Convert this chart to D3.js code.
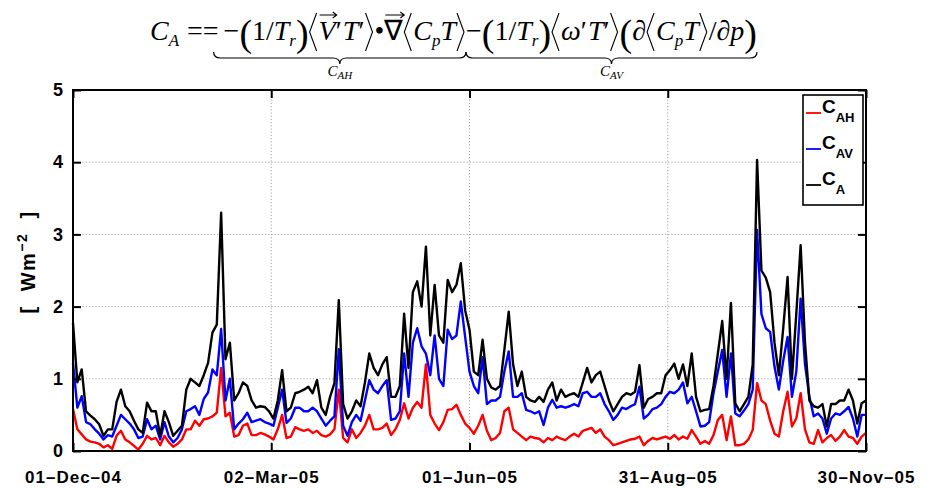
<!DOCTYPE html>
<html>
<head>
<meta charset="utf-8">
<script src="https://cdn.jsdelivr.net/npm/d3@7"></script>
<style>
  body { margin: 0; background: #fff; }
  svg { display: block; }
</style>
</head>
<body>
<div id="viz"></div>
<script>
// daily values, one every 2 days from 01-Dec-04 to 30-Nov-05
const cAH = [
  0.58,0.3,0.23,0.16,0.13,0.12,0.1,0.05,0.08,0.03,
  0.21,0.28,0.16,0.12,0.07,0.02,0.1,0.21,0.16,0.18,
  0.08,0.21,0.12,0.06,0.1,0.16,0.3,0.3,0.42,0.35,
  0.44,0.45,0.48,0.53,1.15,0.48,0.53,0.2,0.22,0.35,
  0.38,0.22,0.22,0.25,0.23,0.2,0.16,0.3,0.5,0.18,
  0.2,0.33,0.3,0.28,0.3,0.25,0.28,0.22,0.2,0.23,
  0.3,0.85,0.18,0.12,0.3,0.18,0.25,0.35,0.5,0.3,
  0.3,0.32,0.38,0.22,0.3,0.43,0.66,0.45,0.6,0.68,
  0.6,1.2,0.5,0.38,0.29,0.4,0.57,0.58,0.64,0.5,
  0.38,0.32,0.24,0.35,0.5,0.28,0.15,0.18,0.25,0.55,
  0.6,0.3,0.25,0.2,0.15,0.2,0.18,0.17,0.12,0.18,
  0.15,0.2,0.17,0.15,0.2,0.24,0.2,0.28,0.3,0.32,
  0.25,0.3,0.2,0.15,0.08,0.1,0.12,0.14,0.16,0.17,
  0.2,0.08,0.14,0.18,0.16,0.18,0.2,0.17,0.22,0.16,
  0.2,0.17,0.29,0.2,0.1,0.14,0.1,0.22,0.43,0.5,
  0.15,0.48,0.08,0.08,0.1,0.16,0.29,0.94,0.7,0.65,
  0.42,0.24,0.2,0.55,0.82,0.34,0.45,0.8,0.3,0.12,
  0.1,0.29,0.12,0.18,0.22,0.14,0.2,0.29,0.2,0.18,
  0.1,0.2,0.25
]
const cAV = [
  1.22,0.6,0.76,0.4,0.37,0.3,0.24,0.16,0.22,0.2,
  0.35,0.5,0.44,0.38,0.3,0.18,0.2,0.44,0.3,0.35,
  0.16,0.4,0.2,0.12,0.18,0.3,0.55,0.58,0.62,0.5,
  0.72,0.81,1.13,1.05,1.69,0.7,1.0,0.3,0.38,0.44,
  0.53,0.4,0.42,0.44,0.4,0.38,0.35,0.6,0.85,0.39,
  0.45,0.6,0.6,0.55,0.55,0.6,0.55,0.45,0.35,0.42,
  0.48,1.41,0.35,0.21,0.4,0.5,0.42,0.7,0.98,0.85,
  0.8,0.9,0.98,0.43,0.45,0.55,1.35,0.75,1.5,1.7,
  1.45,1.35,1.05,1.6,1.0,0.9,1.68,1.55,1.6,2.07,
  1.58,1.1,0.9,0.8,1.3,0.65,0.7,0.7,0.75,1.1,
  1.38,0.75,0.75,0.8,0.57,0.55,0.52,0.55,0.36,0.6,
  0.71,0.6,0.62,0.6,0.62,0.65,0.62,0.8,0.82,0.75,
  0.75,0.8,0.65,0.55,0.43,0.5,0.6,0.58,0.62,0.65,
  0.89,0.45,0.5,0.58,0.6,0.65,0.75,0.82,0.8,0.85,
  0.95,0.66,0.75,0.55,0.34,0.35,0.4,0.8,1.1,1.4,
  0.75,1.35,0.52,0.48,0.56,0.65,0.85,3.06,1.9,1.7,
  1.65,1.17,0.85,1.25,1.58,0.75,1.1,2.11,1.2,0.75,
  0.48,0.52,0.45,0.24,0.45,0.52,0.5,0.55,0.61,0.45,
  0.2,0.5,0.5
]
const cA = [
  1.77,0.95,1.13,0.55,0.49,0.44,0.37,0.21,0.3,0.3,
  0.68,0.85,0.62,0.55,0.42,0.3,0.25,0.67,0.55,0.55,
  0.21,0.55,0.4,0.21,0.28,0.35,0.85,1.0,0.95,0.9,
  1.05,1.22,1.64,1.75,3.3,1.27,1.5,0.7,0.8,0.95,
  0.9,0.7,0.6,0.62,0.61,0.55,0.45,0.7,1.12,0.55,
  0.6,0.8,0.82,0.85,0.89,0.8,0.98,0.6,0.5,0.75,
  0.94,2.09,0.65,0.45,0.55,0.7,0.62,0.95,1.35,1.15,
  1.05,1.2,1.3,0.75,0.75,0.9,1.9,1.15,2.2,2.35,
  2.0,2.83,1.6,2.3,1.6,1.5,2.37,2.2,2.3,2.6,
  1.95,1.68,1.1,1.05,1.54,1.0,0.88,0.85,0.9,1.4,
  1.93,1.2,0.9,1.1,0.75,0.7,0.68,0.75,0.68,0.85,
  0.95,0.7,0.85,0.75,0.78,0.8,0.75,0.95,1.15,0.95,
  1.05,1.1,0.9,0.7,0.55,0.65,0.75,0.8,0.78,0.82,
  1.19,0.6,0.72,0.75,0.8,0.8,1.05,1.12,1.21,1.0,
  1.2,0.9,1.35,0.75,0.55,0.57,0.58,0.9,1.35,1.8,
  1.0,2.05,0.66,0.55,0.65,0.75,1.2,4.03,2.5,2.4,
  2.2,1.5,1.05,1.7,2.41,1.0,1.9,2.85,1.5,0.7,
  0.62,0.6,0.65,0.34,0.65,0.65,0.7,0.7,0.85,0.7,
  0.38,0.66,0.7
]

const seriesSub = ["AH", "AV", "A"]
const seriesColors = ["#ff0000", "#0000ff", "#000000"]
const tickDates = ["2004-12-01", "2005-03-02", "2005-06-01", "2005-08-31", "2005-11-30"]
const tickLabels = ["01–Dec–04", "02–Mar–05", "01–Jun–05", "31–Aug–05", "30–Nov–05"]
const yTicks = [0, 1, 2, 3, 4, 5]

const width = 933
const height = 488
const plot = { left: 73, right: 866, top: 90, bottom: 451 }

const parse = d3.utcParse("%Y-%m-%d")
const start = parse("2004-12-01")
const dates = d3.utcDay.range(start, parse("2005-12-01"), 2)
const ticks = tickDates.map(parse)

const svg = d3.select("#viz").append("svg")
  .attr("width", width)
  .attr("height", height)
  .style("font-family", "'Liberation Sans', Arial, sans-serif")

const x = d3.scaleUtc()
  .domain([start, parse("2005-11-30")])
  .range([plot.left, plot.right])
const y = d3.scaleLinear()
  .domain([0, 5])
  .range([plot.bottom, plot.top])

// dotted grid
const grid = svg.append("g")
  .attr("stroke", "#9a9a9a")
  .attr("stroke-width", 0.9)
  .attr("stroke-dasharray", "1.2,2")
grid.selectAll("line.h")
  .data(yTicks.slice(1, -1))
  .enter().append("line")
  .attr("x1", plot.left).attr("x2", plot.right)
  .attr("y1", d => y(d)).attr("y2", d => y(d))
grid.selectAll("line.v")
  .data(ticks.slice(1, -1))
  .enter().append("line")
  .attr("y1", plot.top).attr("y2", plot.bottom)
  .attr("x1", d => x(d)).attr("x2", d => x(d))

// series
const line = d3.line()
  .x((d, i) => x(dates[i]))
  .y(d => y(d))
const allSeries = [cAH, cAV, cA]
svg.append("g").selectAll("path")
  .data(allSeries)
  .enter().append("path")
  .attr("d", d => line(d))
  .attr("fill", "none")
  .attr("stroke", (d, i) => seriesColors[i])
  .attr("stroke-width", 2.4)
  .attr("stroke-linejoin", "round")

// axes with inward ticks
const tickFont = g => g.selectAll("text")
  .attr("font-size", 17)
  .attr("font-weight", "bold")
  .attr("fill", "#000")
  .attr("font-family", "'Liberation Sans', Arial, sans-serif")

const xAxis = svg.append("g")
  .attr("transform", `translate(0,${plot.bottom})`)
  .call(d3.axisBottom(x).tickValues(ticks).tickFormat((d, i) => tickLabels[i])
    .tickSizeInner(-8).tickSizeOuter(0).tickPadding(20))
xAxis.call(tickFont)
xAxis.selectAll("text").attr("letter-spacing", "1px")

const yAxis = svg.append("g")
  .attr("transform", `translate(${plot.left},0)`)
  .call(d3.axisLeft(y).tickValues(yTicks).tickFormat(d3.format("d"))
    .tickSizeInner(-8).tickSizeOuter(0).tickPadding(10))
yAxis.call(tickFont)
yAxis.selectAll("text").attr("font-size", 18)

svg.append("g")
  .attr("transform", `translate(0,${plot.top})`)
  .call(d3.axisTop(x).tickValues(ticks).tickFormat("").tickSizeInner(-8).tickSizeOuter(0))
svg.append("g")
  .attr("transform", `translate(${plot.right},0)`)
  .call(d3.axisRight(y).tickValues(yTicks).tickFormat("").tickSizeInner(-8).tickSizeOuter(0))

svg.selectAll(".domain").remove()
svg.selectAll(".tick line").attr("stroke", "#000").attr("stroke-width", 2)

svg.append("rect")
  .attr("x", plot.left).attr("y", plot.top)
  .attr("width", plot.right - plot.left)
  .attr("height", plot.bottom - plot.top)
  .attr("fill", "none")
  .attr("stroke", "#000")
  .attr("stroke-width", 2)

// y label
const yl = svg.append("text")
  .attr("transform", "translate(35,262) rotate(-90)")
  .attr("text-anchor", "middle")
  .attr("font-size", 20)
  .attr("font-weight", "bold")
  .attr("letter-spacing", "1.5px")
  .attr("xml:space", "preserve")
yl.append("tspan").text("[  Wm")
yl.append("tspan").attr("dy", -8).attr("font-size", 14).text("−2")
yl.append("tspan").attr("dy", 8).text("  ]")

// legend
const legend = svg.append("g")
legend.append("rect")
  .attr("x", 803).attr("y", 95)
  .attr("width", 60).attr("height", 110)
  .attr("fill", "#fff")
  .attr("stroke", "#000")
  .attr("stroke-width", 1.6)
const legendY = [113, 149, 185]
seriesSub.forEach((s, i) => {
  legend.append("line")
    .attr("x1", 806).attr("x2", 821)
    .attr("y1", legendY[i]).attr("y2", legendY[i])
    .attr("stroke", seriesColors[i])
    .attr("stroke-width", 1.8)
  const t = legend.append("text")
    .attr("x", 822).attr("y", legendY[i])
    .attr("font-size", 19)
    .attr("font-weight", "bold")
  t.append("tspan").text("C")
  t.append("tspan").attr("dy", 9).attr("font-size", 13).text(s)
})

// equation title
const eq = svg.append("g")
let cx = 0
const base = 28
function put(str, opt = {}) {
  const t = eq.append("text")
    .attr("x", cx)
    .attr("y", opt.dy || 0)
    .attr("font-family", "'Liberation Serif', 'Times New Roman', serif")
    .attr("font-size", opt.size || base)
    .attr("font-style", opt.it ? "italic" : "normal")
    .text(str)
  const w = t.node().getComputedTextLength()
  const s = cx
  cx += w + (opt.gap || 0)
  return { s: s, e: s + w }
}
const big = (c, g) => put(c, { size: 38, dy: 6, gap: g || 0 })
const sub = (c, g) => put(c, { size: 17, dy: 6, it: true, gap: g || 0 })
function angle(dir) {
  const w = 7, s = cx + 1
  const p = dir === "l"
    ? `M${s + w},-27 L${s},-8 L${s + w},11`
    : `M${s},-27 L${s + w},-8 L${s},11`
  eq.append("path").attr("d", p).attr("fill", "none").attr("stroke", "#000").attr("stroke-width", 1.1)
  cx += w + 3
  return { s: s, e: s + w }
}
function arrowOver(r) {
  const yA = -25
  eq.append("path")
    .attr("d", `M${r.s + 1},${yA} L${r.e + 1},${yA} M${r.e - 3},${yA - 3} L${r.e + 1},${yA} L${r.e - 3},${yA + 3}`)
    .attr("fill", "none").attr("stroke", "#000").attr("stroke-width", 1.1)
}

put("C", { it: true })
sub("A", 8)
put("==", { gap: 5 })
const m1 = put("−")
big("(")
put("1/")
put("T", { it: true })
sub("r")
big(")")
angle("l")
arrowOver(put("V", { it: true }))
put("′", { gap: 1 })
put("T", { it: true })
put("′")
angle("r")
put("•")
arrowOver(put("∇"))
angle("l")
put("C", { it: true })
sub("p")
put("T", { it: true })
const e1 = angle("r")
const m2 = put("−")
big("(")
put("1/")
put("T", { it: true })
sub("r")
big(")")
angle("l")
put("ω", { it: true })
put("′", { gap: 1 })
put("T", { it: true })
put("′")
angle("r")
big("(")
put("∂")
angle("l")
put("C", { it: true })
sub("p")
put("T", { it: true })
angle("r")
put("/")
put("∂")
put("p", { it: true })
const e2 = big(")")

const total = e2.e
const sx = (757 - 150) / total
eq.attr("transform", `translate(150,40) scale(${sx},1)`)

// underbraces in page coordinates
function brace(x1, x2, y0, h) {
  const mid = (x1 + x2) / 2, r = 7
  return `M${x1},${y0} Q${x1},${y0 + h / 2} ${x1 + r},${y0 + h / 2} L${mid - r},${y0 + h / 2} ` +
    `Q${mid},${y0 + h / 2} ${mid},${y0 + h} Q${mid},${y0 + h / 2} ${mid + r},${y0 + h / 2} ` +
    `L${x2 - r},${y0 + h / 2} Q${x2},${y0 + h / 2} ${x2},${y0}`
}
const px = v => 150 + v * sx
const braces = [[px(m1.s) - 10, px(e1.e) + 2, "AH"], [px(m2.s), px(e2.e), "AV"]]
braces.forEach(b => {
  svg.append("path")
    .attr("d", brace(b[0], b[1], 52, 12))
    .attr("fill", "none").attr("stroke", "#000").attr("stroke-width", 1.2)
  const t = svg.append("text")
    .attr("x", (b[0] + b[1]) / 2).attr("y", 76)
    .attr("text-anchor", "middle")
    .attr("font-family", "'Liberation Serif', 'Times New Roman', serif")
    .attr("font-style", "italic")
    .attr("font-size", 15)
  t.append("tspan").text("C")
  t.append("tspan").attr("dy", 3).attr("font-size", 11).text(b[2])
})
</script>
</body>
</html>
